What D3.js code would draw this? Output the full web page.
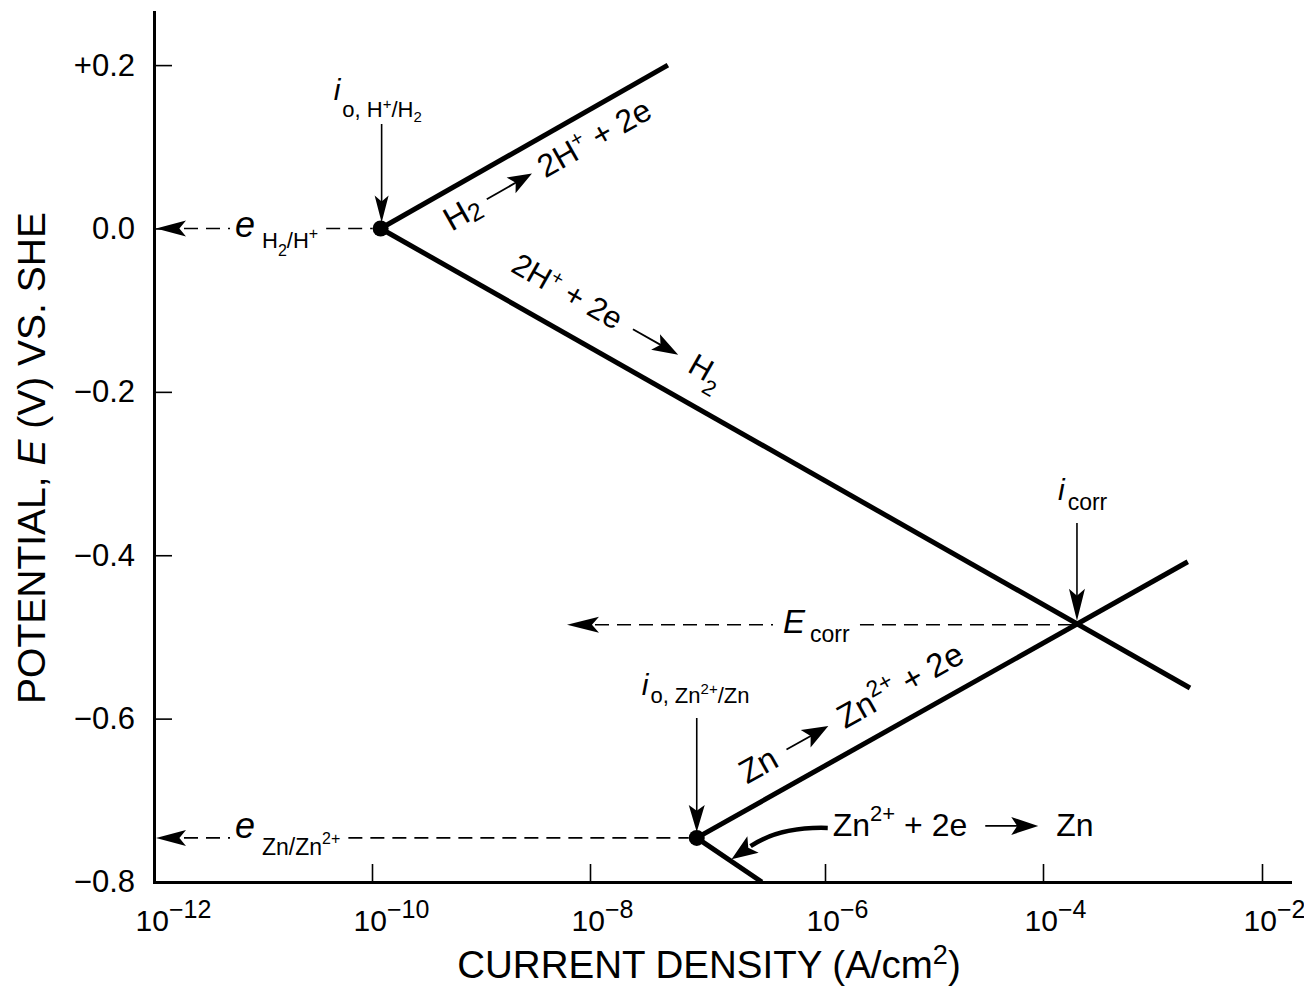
<!DOCTYPE html>
<html lang="en">
<head>
<meta charset="utf-8">
<script src="https://d3js.org/d3.v7.min.js"></script>
<style>
  body { margin: 0; background: #fff; }
  svg { display: block; font-family: "Liberation Sans", Arial, Helvetica, sans-serif; }
</style>
</head>
<body>
<svg width="1304" height="989"></svg>
<script>
// tick values and labels
var xTicks = [1e-12, 1e-10, 1e-8, 1e-6, 1e-4, 1e-2];
var xMax = 1.78e-2;
var xTickExp = ["\u221212", "\u221210", "\u22128", "\u22126", "\u22124", "\u22122"];
var yTicks = [0.2, 0.0, -0.2, -0.4, -0.6, -0.8];
var yTickLabels = ["+0.2", "0.0", "\u22120.2", "\u22120.4", "\u22120.6", "\u22120.8"];

// polarization lines: [current density A/cm2, potential V vs SHE]
var h2Anodic = [[1.2e-10, 0.0], [4.6e-8, 0.2]];
var h2Cathodic = [[1.2e-10, 0.0], [2.2e-3, -0.5625]];
var znAnodic = [[8.1e-8, -0.746], [2.1e-3, -0.408]];
var znCathodic = [[8.1e-8, -0.746], [2.9e-7, -0.8]];
var exchange = [[1.2e-10, 0.0], [8.1e-8, -0.746]];
var corr = [2.0e-4, -0.485];

var svg = d3.select("svg");

// the drawn decades are not quite even, so the log scale is piecewise
var x = d3.scaleLog()
    .domain(xTicks.concat([xMax]))
    .range([154, 372, 590, 825, 1043, 1262, 1290]);
var y = d3.scaleLinear().domain([-0.8, 0.265]).range([882, 12]);

function head(g, tx, ty, ang, len, half) {
  g.append("path")
   .attr("d", "M0,0L" + (-len) + "," + (-half) + "L" + (-len * 0.78) + ",0L" + (-len) + "," + half + "Z")
   .attr("transform", "translate(" + tx + "," + ty + ") rotate(" + ang + ")")
   .attr("fill", "#000");
}

function rich(g, parts) {
  var t = g.append("text").attr("fill", "#000");
  var base = 0;
  parts.forEach(function(p) {
    var b = p.b || 0;
    t.append("tspan")
     .attr("font-size", p.s)
     .attr("font-style", p.i ? "italic" : null)
     .attr("dx", p.dx || null)
     .attr("dy", b - base)
     .text(p.t);
    base = b;
  });
  return t;
}

function flow(g, items) {
  var cx = 0;
  items.forEach(function(it) {
    if (it.arrow) {
      cx += it.gap;
      g.append("line")
       .attr("x1", cx).attr("x2", cx + it.arrow - it.hl * 0.6)
       .attr("y1", it.y).attr("y2", it.y)
       .attr("stroke", "#000").attr("stroke-width", 1.8);
      head(g, cx + it.arrow, it.y, 0, it.hl, it.hw);
      cx += it.arrow + it.gap;
    } else {
      var t = rich(g, it.parts).attr("x", cx);
      var bb = t.node().getBBox();
      cx = bb.x + bb.width;
    }
  });
}

function alongLabel(line, along, off, items) {
  var p0 = [x(line[0][0]), y(line[0][1])], p1 = [x(line[1][0]), y(line[1][1])];
  var a = Math.atan2(p1[1] - p0[1], p1[0] - p0[0]);
  var tx = p0[0] + along * Math.cos(a) - off * Math.sin(a);
  var ty = p0[1] + along * Math.sin(a) + off * Math.cos(a);
  var g = svg.append("g")
    .attr("transform", "translate(" + tx + "," + ty + ") rotate(" + (a * 180 / Math.PI) + ")");
  flow(g, items);
}

// axes
var xAxis = svg.append("g")
    .attr("transform", "translate(0," + y(-0.8) + ")")
    .call(d3.axisBottom(x).tickValues(xTicks).tickSizeInner(-18).tickSizeOuter(0).tickFormat(""));
var yAxis = svg.append("g")
    .attr("transform", "translate(" + x(1e-12) + ",0)")
    .call(d3.axisLeft(y).tickValues(yTicks).tickSizeInner(-18).tickSizeOuter(0).tickPadding(19)
      .tickFormat(function(d, i) { return yTickLabels[i]; }));

[xAxis, yAxis].forEach(function(ax) {
  ax.attr("font-family", null).attr("font-size", 31);
  ax.select(".domain").attr("stroke", "#000").attr("stroke-width", 3).attr("stroke-linecap", "square");
  ax.selectAll(".tick line").attr("stroke", "#000").attr("stroke-width", 1.6);
  ax.selectAll(".tick text").attr("fill", "#000");
});

xAxis.selectAll(".tick text").each(function(d, i) {
  var t = d3.select(this).text("").attr("y", 49).attr("dy", null)
    .attr("x", -19).attr("text-anchor", "start");
  t.append("tspan").attr("font-size", 30).text("10");
  t.append("tspan").attr("font-size", 25).attr("dy", -13).text(xTickExp[i]);
});

// axis titles
rich(svg, [
  { t: "CURRENT DENSITY (A/cm", s: 38.5 },
  { t: "2", s: 27, b: -14 },
  { t: ")", s: 38.5, b: 0 }
]).attr("x", 709).attr("y", 978).attr("text-anchor", "middle");

rich(svg.append("g").attr("transform", "translate(45,458) rotate(-90)"), [
  { t: "POTENTIAL, ", s: 39 },
  { t: "E", s: 39, i: 1 },
  { t: " (V) VS. SHE", s: 39 }
]).attr("text-anchor", "middle");

// polarization lines
var line = d3.line().x(function(d) { return x(d[0]); }).y(function(d) { return y(d[1]); });
[h2Anodic, h2Cathodic, znAnodic, znCathodic].forEach(function(l) {
  svg.append("path").attr("d", line(l))
     .attr("fill", "none").attr("stroke", "#000").attr("stroke-width", 5);
});

svg.selectAll(".ex").data(exchange).enter().append("circle")
   .attr("cx", function(d) { return x(d[0]); })
   .attr("cy", function(d) { return y(d[1]); })
   .attr("r", 8).attr("fill", "#000");

var ann = svg.append("g");

function dash(x1, x2, yy) {
  ann.append("line").attr("x1", x1).attr("x2", x2).attr("y1", yy).attr("y2", yy)
     .attr("stroke", "#000").attr("stroke-width", 1.6).attr("stroke-dasharray", "14,8");
}

function vArrow(xx, y1, tip, len, half) {
  ann.append("line").attr("x1", xx).attr("x2", xx).attr("y1", y1).attr("y2", tip - len * 0.6)
     .attr("stroke", "#000").attr("stroke-width", 1.6);
  head(ann, xx, tip, 90, len, half);
}

// equilibrium potentials on the axis
var axisX = x(1e-12);
[[exchange[0], 9, [
   { t: "e", s: 36, i: 1 },
   { t: "H", s: 22, b: 11, dx: 7 },
   { t: "2", s: 16, b: 19 },
   { t: "/H", s: 22, b: 11 },
   { t: "+", s: 16, b: 2 }
 ]],
 [exchange[1], 0, [
   { t: "e", s: 36, i: 1 },
   { t: "Zn/Zn", s: 23, b: 17, dx: 7 },
   { t: "2+", s: 16, b: 6 }
 ]]].forEach(function(e) {
  var px = x(e[0][0]), py = y(e[0][1]);
  var t = rich(ann, e[2]).attr("x", 235).attr("y", py + e[1]);
  var bb = t.node().getBBox();
  head(ann, axisX + 2, py, 180, 30, 8);
  dash(axisX + 30, 230, py);
  dash(bb.x + bb.width + 8, px - 8, py);
});

// corrosion potential
var cx = x(corr[0]), cy = y(corr[1]);
var et = rich(ann, [
  { t: "E", s: 33, i: 1 },
  { t: "corr", s: 23, b: 9, dx: 5 }
]).attr("x", 783).attr("y", cy + 8);
var ebb = et.node().getBBox();
head(ann, 567, cy, 180, 32, 8);
dash(595, 773, cy);
dash(ebb.x + ebb.width + 10, cx, cy);

// current arrows
var hx = x(exchange[0][0]), hy = y(exchange[0][1]);
var zx = x(exchange[1][0]), zy = y(exchange[1][1]);
vArrow(hx + 1, 124, hy - 6, 27, 7);
vArrow(zx, 718, zy - 6, 27, 8);
vArrow(cx + 1, 523, cy - 4, 32, 8);

rich(ann, [
  { t: "i", s: 30, i: 1 },
  { t: "o, H", s: 22, b: 17, dx: 2 },
  { t: "+", s: 15, b: 9 },
  { t: "/H", s: 22, b: 17 },
  { t: "2", s: 15, b: 22 }
]).attr("x", hx - 47).attr("y", hy - 128);

rich(ann, [
  { t: "i", s: 30, i: 1 },
  { t: "o, Zn", s: 22, b: 8, dx: 2 },
  { t: "2+", s: 15, b: -1 },
  { t: "/Zn", s: 22, b: 8 }
]).attr("x", zx - 55).attr("y", zy - 143);

rich(ann, [
  { t: "i", s: 30, i: 1 },
  { t: "corr", s: 23, b: 10, dx: 3 }
]).attr("x", cx - 18).attr("y", cy - 125);

// reaction labels along the lines
alongLabel(h2Anodic, 60, 38, [
  { parts: [{ t: "H", s: 33 }, { t: "2", s: 25, b: 3 }] },
  { arrow: 52, gap: 9, y: -11, hl: 24, hw: 9 },
  { parts: [{ t: "2H", s: 32 }, { t: "+", s: 21, b: -12 }, { t: "\u00a0+ 2e", s: 32, b: 0 }] }
]);

alongLabel(h2Cathodic, 133, -27, [
  { parts: [{ t: "2H", s: 31 }, { t: "+", s: 20, b: -11 }, { t: "\u00a0+ 2e", s: 31, b: 0 }] },
  { arrow: 52, gap: 15, y: -10, hl: 26, hw: 9 },
  { parts: [{ t: "H", s: 31 }, { t: "2", s: 22, b: 11 }] }
]);

alongLabel(znAnodic, 70, -22, [
  { parts: [{ t: "Zn", s: 33 }] },
  { arrow: 48, gap: 13, y: -11, hl: 26, hw: 10 },
  { parts: [{ t: "Zn", s: 33 }, { t: "2+", s: 23, b: -14 }, { t: "\u00a0+ 2e", s: 33, b: 0 }] }
]);

var zl = svg.append("g").attr("transform", "translate(" + (zx + 136) + "," + (zy - 2) + ")");
flow(zl, [
  { parts: [{ t: "Zn", s: 32 }, { t: "2+", s: 22, b: -15 }, { t: "\u00a0+ 2e", s: 32, b: 0 }] },
  { arrow: 53, gap: 18, y: -10, hl: 27, hw: 9 },
  { parts: [{ t: "Zn", s: 32 }] }
]);

// curved pointer to the Zn reduction branch
var zc0 = [x(znCathodic[0][0]), y(znCathodic[0][1])], zc1 = [x(znCathodic[1][0]), y(znCathodic[1][1])];
var tip = [zc0[0] + (zc1[0] - zc0[0]) * 0.55 - 1, zc0[1] + (zc1[1] - zc0[1]) * 0.55 - 3];
var cEnd = [tip[0] + 19, tip[1] - 13];
ann.append("path")
   .attr("d", "M" + (zx + 131) + "," + (zy - 10) +
              "C" + (zx + 99) + "," + (zy - 11) + " " + (cEnd[0] + 21) + "," + (cEnd[1] - 14) + " " + cEnd[0] + "," + cEnd[1])
   .attr("fill", "none").attr("stroke", "#000").attr("stroke-width", 4.5);
head(ann, tip[0], tip[1], Math.atan2(tip[1] - cEnd[1], tip[0] - cEnd[0]) * 180 / Math.PI, 26, 10);
</script>
</body>
</html>
